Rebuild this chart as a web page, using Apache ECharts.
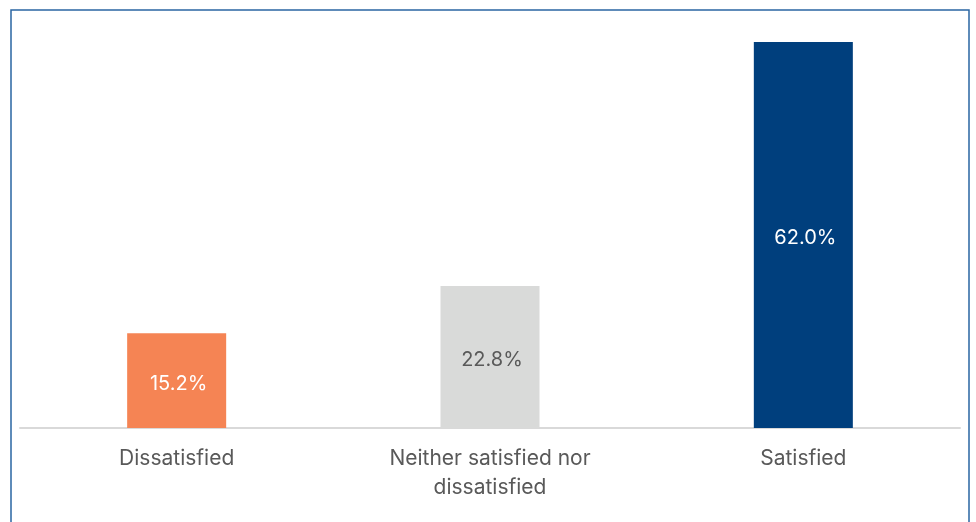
<!DOCTYPE html>
<html>
<head>
<meta charset="utf-8">
<script src="https://cdn.jsdelivr.net/npm/echarts@6/dist/echarts.min.js"></script>
<style>
  html, body { margin: 0; padding: 0; background: #fff; }
  #chart { width: 976px; height: 522px; }
</style>
</head>
<body>
<div id="chart"></div>
<script>
// Satisfaction breakdown (share of respondents, %)
const categories = ['Dissatisfied', 'Neither satisfied nor\ndissatisfied', 'Satisfied'];
const shares = [15.2, 22.8, 62.0];
const barColors = ['#f58454', '#d9dad9', '#003f7d'];
const labelColors = ['#ffffff', '#595959', '#ffffff'];

const chart = echarts.init(document.getElementById('chart'));
const font = 'Inter, "Liberation Sans", Arial, sans-serif';

chart.setOption({
  animation: false,
  graphic: [{
    type: 'rect',
    shape: { x: 11, y: 10, width: 958, height: 540 },
    style: { fill: 'none', stroke: '#2a66a3', lineWidth: 1.5 },
    silent: true
  }],
  grid: { left: 20, right: 16, top: 42, bottom: 94, containLabel: false },
  xAxis: {
    type: 'category',
    data: categories,
    axisLine: { lineStyle: { color: '#d9d9d9', width: 2 } },
    axisTick: { show: false },
    axisLabel: {
      color: '#595959',
      fontFamily: font,
      fontSize: 21,
      lineHeight: 29,
      margin: 16,
      interval: 0
    }
  },
  yAxis: {
    type: 'value',
    min: 0,
    max: 62,
    show: false,
    splitLine: { show: false }
  },
  series: [{
    type: 'bar',
    barWidth: '31.6%',
    data: shares.map((v, i) => ({
      value: v,
      itemStyle: { color: barColors[i] },
      label: { color: labelColors[i] }
    })),
    label: {
      show: true,
      position: 'inside',
      offset: [2, 3],
      fontFamily: font,
      fontSize: 20,
      formatter: p => p.value.toFixed(1) + '%'
    }
  }]
});
</script>
</body>
</html>
